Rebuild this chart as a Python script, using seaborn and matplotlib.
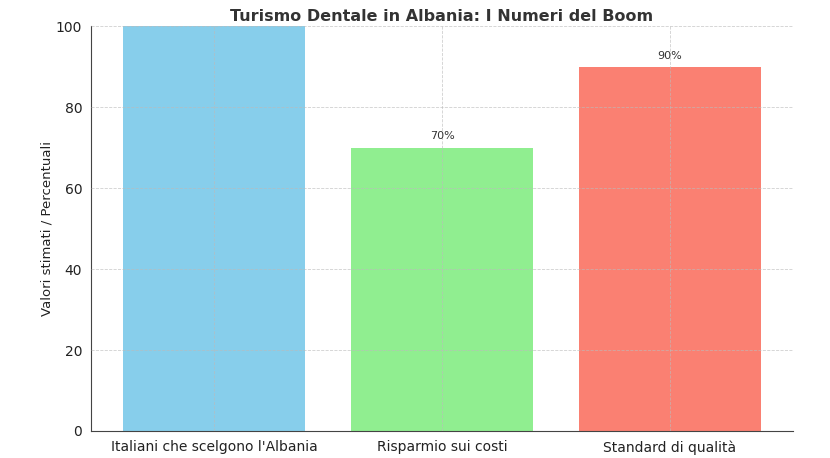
import numpy as np
import pandas as pd
import matplotlib
matplotlib.use("Agg")
import matplotlib.pyplot as plt
import seaborn as sns

# Dati del grafico
categorie = ["Italiani che scelgono l'Albania", "Risparmio sui costi", "Standard di qualità"]
valori = [200000, 70, 90]
etichette = ["", "70%", "90%"]
colori = ["skyblue", "lightgreen", "salmon"]

df = pd.DataFrame({"Categoria": categorie, "Valore": valori})

sns.set_style("white")
plt.rcParams['font.family'] = ['DejaVu Sans']

fig, ax = plt.subplots(figsize=(8.3, 4.58), dpi=100)
sns.barplot(data=df, x="Categoria", y="Valore", hue="Categoria", palette=colori,
            width=0.8, saturation=1, legend=False, linewidth=0, ax=ax)

for i, (v, t) in enumerate(zip(valori, etichette)):
    if t:
        ax.text(i, v + 1.5, t, ha="center", va="bottom", fontsize=8, color="#333333")

ax.set_ylim(0, 100)
ax.set_xlim(-0.54, 2.54)
ax.set_title("Turismo Dentale in Albania: I Numeri del Boom", fontsize=11.5,
             fontweight="bold", color="#333333", pad=4)
ax.set_xlabel("")
ax.set_ylabel("Valori stimati / Percentuali", fontsize=9.5, color="#222222", labelpad=2)
ax.tick_params(axis="both", labelsize=10, colors="#222222", length=3)
ax.grid(True, linestyle="--", color="#bbbbbb", linewidth=0.6, alpha=0.7)
ax.set_axisbelow(False)
sns.despine(ax=ax)
for s in ["left", "bottom"]:
    ax.spines[s].set_color("#444444")

fig.subplots_adjust(left=0.11, right=0.955, top=0.943, bottom=0.059)
fig.savefig("out.png", dpi=100)
